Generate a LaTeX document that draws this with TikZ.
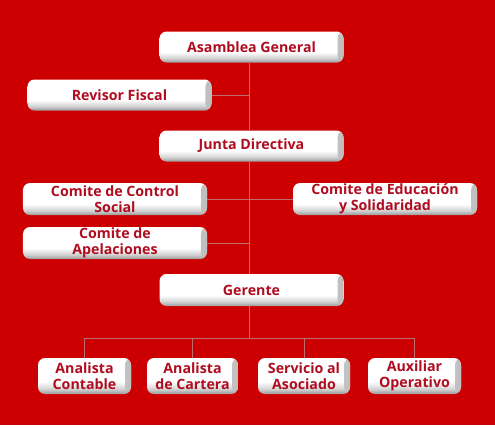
\documentclass[tikz,border=0pt]{standalone}
\usepackage{fontspec}
\setmainfont{Open Sans}
\usepackage[svgnames]{xcolor}
\usetikzlibrary{positioning, calc, fadings}

\definecolor{fondo}{RGB}{204,0,0}
\definecolor{letra}{RGB}{176,12,32}
\definecolor{linea}{RGB}{190,110,110}

\pgfdeclareverticalshading{boton}{100bp}{color(0bp)=(gray!80); color(25bp)=(gray!80); color(32bp)=(gray!35); color(42bp)=(white); color(100bp)=(white)}
\tikzfading[name=haciaderecha, left color=transparent!100, right color=transparent!0]

\tikzset{
    caja/.style={rounded corners=7bp, shading=boton, draw=none, text=letra,
        font=\bfseries\fontsize{14.2bp}{15.5bp}\selectfont, align=center, inner sep=0pt,
        path picture={\fill[gray!50, path fading=haciaderecha]
            ($(path picture bounding box.north east)+(-6bp,0)$) rectangle (path picture bounding box.south east);}},
    ancha/.style={caja, minimum width=184bp, minimum height=31bp},
    chica/.style={caja, minimum width=93bp, minimum height=36bp},
    conector/.style={draw=linea, line width=0.8bp}
}

\begin{document}
\begin{tikzpicture}[x=1bp, y=-1bp]
    % fondo
    \fill[white] (0,0) rectangle (495,427);
    \fill[fondo] (0,0) rectangle (495,425);
    \useasboundingbox (0,0) rectangle (495,427);

    \coordinate (spine) at (249,0);
    \coordinate (bus) at (0,338);

    % cajas
    \node[ancha] (asamblea) at (251.5,47) {Asamblea General};
    \node[ancha] (revisor) at (119.5,95) {Revisor Fiscal};
    \node[ancha] (junta) at (251.5,146) {Junta Directiva};
    \node[ancha, minimum height=32bp] (control) at (115,199) {Comite de Control\\Social};
    \node[ancha, minimum height=32bp] (educacion) at (385,199) {Comite de Educación\\y Solidaridad};
    \node[ancha, minimum height=32bp] (apelaciones) at (115,243) {Comite de\\Apelaciones};
    \node[ancha, minimum height=32bp] (gerente) at (251.5,290) {Gerente};

    \node[chica] (contable) at (84.5,376) {Analista\\Contable};
    \node[chica, minimum width=91bp] (cartera) at (192.5,376) {Analista\\de Cartera};
    \node[chica, minimum width=92bp] (servicio) at (304,376) {Servicio al\\Asociado};
    \node[chica] (auxiliar) at (414.5,376) {Auxiliar\\Operativo};

    % lineas
    \draw[conector] (asamblea.south -| spine) -- (junta.north -| spine);
    \draw[conector] (junta.south -| spine) -- (gerente.north -| spine);
    \draw[conector] (revisor.east) -- (revisor.east -| spine);
    \draw[conector] (control.east) -- (educacion.west);
    \draw[conector] (apelaciones.east) -- (apelaciones.east -| spine);
    \draw[conector] (gerente.south -| spine) -- (spine |- bus);
    \draw[conector] (contable.north |- bus) -- (auxiliar.north |- bus);
    \foreach \n in {contable, cartera, servicio, auxiliar}
        \draw[conector] (\n.north |- bus) -- (\n.north);
\end{tikzpicture}
\end{document}
